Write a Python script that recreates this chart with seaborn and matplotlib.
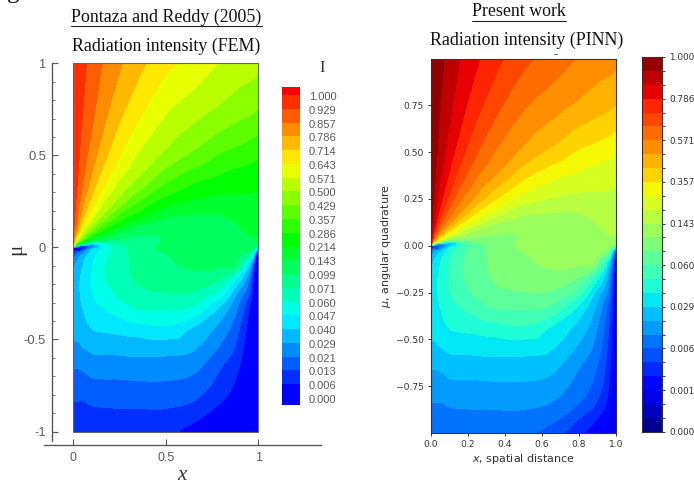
import matplotlib
matplotlib.use("Agg")
import matplotlib.pyplot as plt
import matplotlib.tri as mtri
from matplotlib.colors import ListedColormap
from matplotlib.lines import Line2D
from matplotlib.patches import Rectangle
from matplotlib.ticker import MultipleLocator
import numpy as np
import seaborn as sns

W, H = 694, 487

# intensity level labels, top of the bar to the bottom
fem_labels = ["1.000", "0.929", "0.857", "0.786", "0.714", "0.643", "0.571", "0.500",
              "0.429", "0.357", "0.286", "0.214", "0.143", "0.099", "0.071", "0.060",
              "0.047", "0.040", "0.029", "0.021", "0.013", "0.006", "0.000"]
pinn_labels = ["1.000", "0.786", "0.571", "0.357", "0.143", "0.060", "0.029", "0.006",
               "0.001", "0.000"]

x_grid = [0, 0.02, 0.05, 0.1, 0.17, 0.25, 0.35, 0.5, 0.65, 0.8, 0.9, 0.97, 1]
mu_grid = [1, 0.75, 0.5, 0.35, 0.25, 0.17, 0.11, 0.07, 0.04, 0.02, 0.01, 0.003,
           -0.005, -0.02, -0.05, -0.1, -0.17, -0.25, -0.35, -0.45, -0.55, -0.65,
           -0.75, -0.85, -0.95, -1]

# in level steps below 1.000 (0 = 1.000, 3 = 0.786, 21 = 0.006 ...)
level_steps = [
    [0, 0.26, 0.66, 1.28, 2.07, 2.8, 3.6, 4.65, 5.35, 6.03, 6.4, 6.55, 6.65],
    [0, 0.35, 0.88, 1.66, 2.63, 3.6, 4.6, 5.8, 6.5, 7.15, 7.56, 7.8, 7.95],
    [0, 0.53, 1.28, 2.37, 3.65, 4.85, 6, 7.2, 8.18, 9.07, 9.4, 9.65, 9.8],
    [0, 0.75, 1.78, 3.18, 4.75, 6.06, 7.2, 8.92, 9.9, 10.4, 10.65, 10.8, 10.85],
    [0, 1.05, 2.37, 4.14, 5.9, 7.2, 8.8, 10.33, 11, 11.25, 11.15, 11.1, 11.06],
    [0, 1.48, 3.25, 5.35, 7.2, 9.05, 10.43, 11.77, 12, 12, 11.5, 11.3, 11.2],
    [0, 2.02, 4.53, 6.85, 9.3, 10.8, 12.1, 12.6, 12.3, 12.15, 12, 11.6, 11.4],
    [0, 3.18, 6.06, 8.9, 11.05, 12.3, 12.7, 12.9, 12.35, 12.2, 12.15, 11.85, 11.7],
    [0, 4.85, 8.2, 11.15, 12.5, 13, 13.2, 12.9, 12.35, 12.25, 12.2, 12.1, 12.05],
    [0, 7.2, 11.15, 14.5, 14.4, 13.7, 13.35, 12.85, 12.35, 12.25, 12.25, 12.2, 12.2],
    [0, 10.33, 15, 18, 15.2, 14.1, 13.4, 12.8, 12.35, 12.3, 12.3, 12.4, 12.4],
    [0, 14, 20, 18, 15.5, 14.35, 13.45, 12.75, 12.35, 12.3, 12.35, 12.6, 12.7],
    [21.5, 20.5, 20, 17, 15.5, 14.4, 13.5, 12.7, 12.35, 12.45, 12.6, 13, 14],
    [20.5, 19.5, 18.5, 16.6, 15.3, 14.4, 13.55, 12.85, 12.4, 12.5, 12.7, 13.6, 18],
    [19, 18.2, 17.3, 16.2, 15.15, 14.4, 13.6, 13.05, 12.6, 12.65, 12.85, 15.3, 22],
    [18.1, 17.6, 16.9, 16, 15, 14.4, 13.7, 13.2, 12.8, 12.85, 13.6, 18.5, 23.5],
    [17.5, 17.2, 16.7, 15.9, 15, 14.4, 13.85, 13.6, 13.35, 13.9, 16.3, 20, 24],
    [17.2, 17.1, 16.8, 16, 15.4, 14.7, 14.2, 14, 14.05, 15.4, 18.2, 20.8, 24],
    [17.3, 17.2, 17, 16.4, 16.05, 15.6, 15.1, 15.05, 15.4, 17.4, 19.3, 21.8, 24.2],
    [17.7, 17.6, 17.4, 17, 16.85, 16.7, 16.5, 16.25, 17.15, 18.4, 19.95, 22.2, 24.3],
    [18.2, 18.2, 18, 17.75, 17.7, 17.65, 17.6, 17.6, 17.85, 19.15, 20.45, 22.5, 24.4],
    [18.9, 18.9, 18.8, 18.5, 18.5, 18.45, 18.4, 18.4, 18.65, 19.9, 20.95, 22.8, 24.5],
    [19.5, 19.5, 19.5, 19.25, 19.2, 19.2, 19.15, 19.15, 19.4, 20.4, 21.4, 23.1, 24.6],
    [20.05, 20.05, 20.05, 19.9, 19.85, 19.8, 19.8, 19.8, 20.05, 21, 22.1, 23.5, 24.7],
    [20.6, 20.6, 20.6, 20.5, 20.5, 20.45, 20.45, 20.45, 20.9, 22.2, 23.2, 24, 24.8],
    [20.9, 20.9, 20.9, 20.85, 20.8, 20.8, 20.8, 20.7, 21.45, 22.6, 23.6, 24.3, 24.9],
]

sns.set_theme(style="ticks")
plt.rcParams["axes.grid"] = False

GRAY = "#5a5a5a"
DARK = "#333333"
SERIF = "Liberation Serif"
SANS = "Liberation Sans"

fig = plt.figure(figsize=(W / 100, H / 100), dpi=100, facecolor="white")


def px_axes(left, top, right, bottom):
    return fig.add_axes([left / W, 1 - bottom / H, (right - left) / W, (bottom - top) / H])


def px_text(x, y, s, **kw):
    fig.text(x / W, 1 - y / H, s, **kw)


def px_line(x0, x1, y, **kw):
    fig.add_artist(Line2D([x0 / W, x1 / W], [1 - y / H, 1 - y / H], **kw))


# colours: hue wheel red -> blue for the FEM panel, jet for the PINN panel
fem_colors = sns.hls_palette(33, h=0, l=0.5, s=1)[:23]
jet = plt.get_cmap("jet")
pinn_colors = [jet(1 - (i + 0.5) / 27) for i in range(27)]

# the table is coarse, so let matplotlib's tri refiner round the band edges when drawing
xx, mm = np.meshgrid(x_grid, mu_grid)
tri = mtri.Triangulation(xx.ravel(), mm.ravel())
field = np.array(level_steps, dtype=float).ravel()
interp = mtri.CubicTriInterpolator(tri, field, kind="geom")
fine_tri, fine_field = mtri.UniformTriRefiner(tri).refine_field(field, interp, subdiv=3)
fine_field = np.clip(fine_field, 0, 26.9)

# ---- left panel (FEM)
ax = px_axes(73.3, 63.3, 258.3, 431.5)
fem_levels = list(range(0, 22)) + [40]
ax.tricontourf(fine_tri, fine_field, levels=fem_levels, colors=fem_colors[1:])
ax.add_patch(Rectangle((0, -1), 1, 2, fill=False, edgecolor="#666666", linewidth=0.8, clip_on=False))
ax.set_xlim(0, 1)
ax.set_ylim(-1, 1)
sns.despine(ax=ax, offset={"left": 15.6, "bottom": 9.6})
ax.spines["left"].set_bounds(-1.05, 1)
ax.spines["bottom"].set_bounds(-0.158, 1.339)
for side in ["left", "bottom"]:
    ax.spines[side].set_color(GRAY)
    ax.spines[side].set_linewidth(1.0)
ax.set_xticks([0, 0.5, 1])
ax.set_xticklabels(["0", "0.5", "1"], family=SANS, fontsize=9, color=GRAY)
ax.set_yticks([-1, -0.5, 0, 0.5, 1])
ax.set_yticklabels(["-1", "-0.5", "0", "0.5", "1"], family=SANS, fontsize=9.3, color=GRAY)
ax.yaxis.set_minor_locator(MultipleLocator(0.1))
ax.tick_params(axis="y", which="major", direction="in", length=4.3, width=0.8, color=GRAY, pad=4)
ax.tick_params(axis="y", which="minor", direction="in", length=2.2, width=0.6, color=GRAY)
ax.tick_params(axis="x", direction="in", length=4, width=0.8, color=GRAY, pad=5)
px_text(182, 476, "x", family=SERIF, style="italic", fontsize=15, color=DARK, ha="center", va="center")
px_text(17, 249, "\u03bc", family=SERIF, fontsize=15, color=DARK, rotation=90, ha="center", va="center")

# colour bar of the FEM panel: band edges sit just above the labels
cax = px_axes(282, 87, 300, 404.5)
edges = [-0.65] + [i - 0.07 for i in range(0, 22)] + [22.4]
cax.pcolormesh([0, 1], edges, np.arange(23).reshape(-1, 1), cmap=ListedColormap(fem_colors), shading="flat")
cax.set_ylim(22.4, -0.65)
cax.set_xticks([])
cax.yaxis.tick_right()
cax.set_yticks(range(23))
cax.set_yticklabels(fem_labels, family=SANS, fontsize=8, color=GRAY)
cax.tick_params(axis="y", length=0, pad=6.5)
sns.despine(ax=cax, left=True, bottom=True)
px_text(322, 68, "I", family=SERIF, fontsize=12, color=DARK, ha="center", va="center")

# ---- right panel (PINN)
ax2 = px_axes(431, 58.7, 616, 432.7)
ax2.tricontourf(fine_tri, fine_field, levels=list(range(0, 28)), colors=pinn_colors)
ax2.set_xlim(0, 1)
ax2.set_ylim(-0.998, 0.998)
ax2.set_xticks([0, 0.2, 0.4, 0.6, 0.8, 1.0])
ax2.set_yticks([-0.75, -0.5, -0.25, 0, 0.25, 0.5, 0.75])
ax2.tick_params(labelsize=6.6, length=2.5, width=0.7, color=DARK, labelcolor=DARK, pad=2.5)
for side in ax2.spines.values():
    side.set_linewidth(0.8)
    side.set_color(DARK)
ax2.set_xlabel("$x$, spatial distance", fontsize=8, color=DARK, labelpad=2.5)
ax2.set_ylabel("$\\mu$, angular quadrature", fontsize=8, color=DARK, labelpad=2.5)

cax2 = px_axes(642, 57, 662, 431.7)
sns.heatmap(np.arange(27).reshape(-1, 1), ax=cax2, cmap=ListedColormap(pinn_colors),
            cbar=False, xticklabels=False, yticklabels=False)
cax2.yaxis.tick_right()
cax2.set_yticks(range(28))
cax2.set_yticklabels([pinn_labels[i // 3] if i % 3 == 0 else "" for i in range(28)], rotation=0, fontsize=6.4, color=DARK)
cax2.tick_params(axis="y", right=True, length=2.5, width=0.7, color=DARK, pad=2.5)
for side in cax2.spines.values():
    side.set_visible(True)
    side.set_linewidth(0.8)
    side.set_color(DARK)

# ---- headings, pasted above the two panels in the source figure
px_text(166.5, 17, "Pontaza and Reddy (2005)", family=SERIF, fontsize=12.9, color="#111111", ha="center", va="center")
px_line(71, 262, 25.5, color="#222222", linewidth=0.8)
px_text(166, 46, "Radiation intensity (FEM)", family=SERIF, fontsize=12.9, color="#111111", ha="center", va="center")
px_text(519, 12, "Present work", family=SERIF, fontsize=12.9, color="#111111", ha="center", va="center")
px_line(472, 566, 21, color="#222222", linewidth=0.8)
px_text(527, 40, "Radiation intensity (PINN)", family=SERIF, fontsize=12.9, color="#111111", ha="center", va="center")
px_line(553.5, 556.5, 54, color="#555555", linewidth=0.7)
px_text(7, -1.5, "g", family=SERIF, fontsize=18, color="#111111", ha="left", va="baseline")

fig.savefig("out.png", dpi=100)
